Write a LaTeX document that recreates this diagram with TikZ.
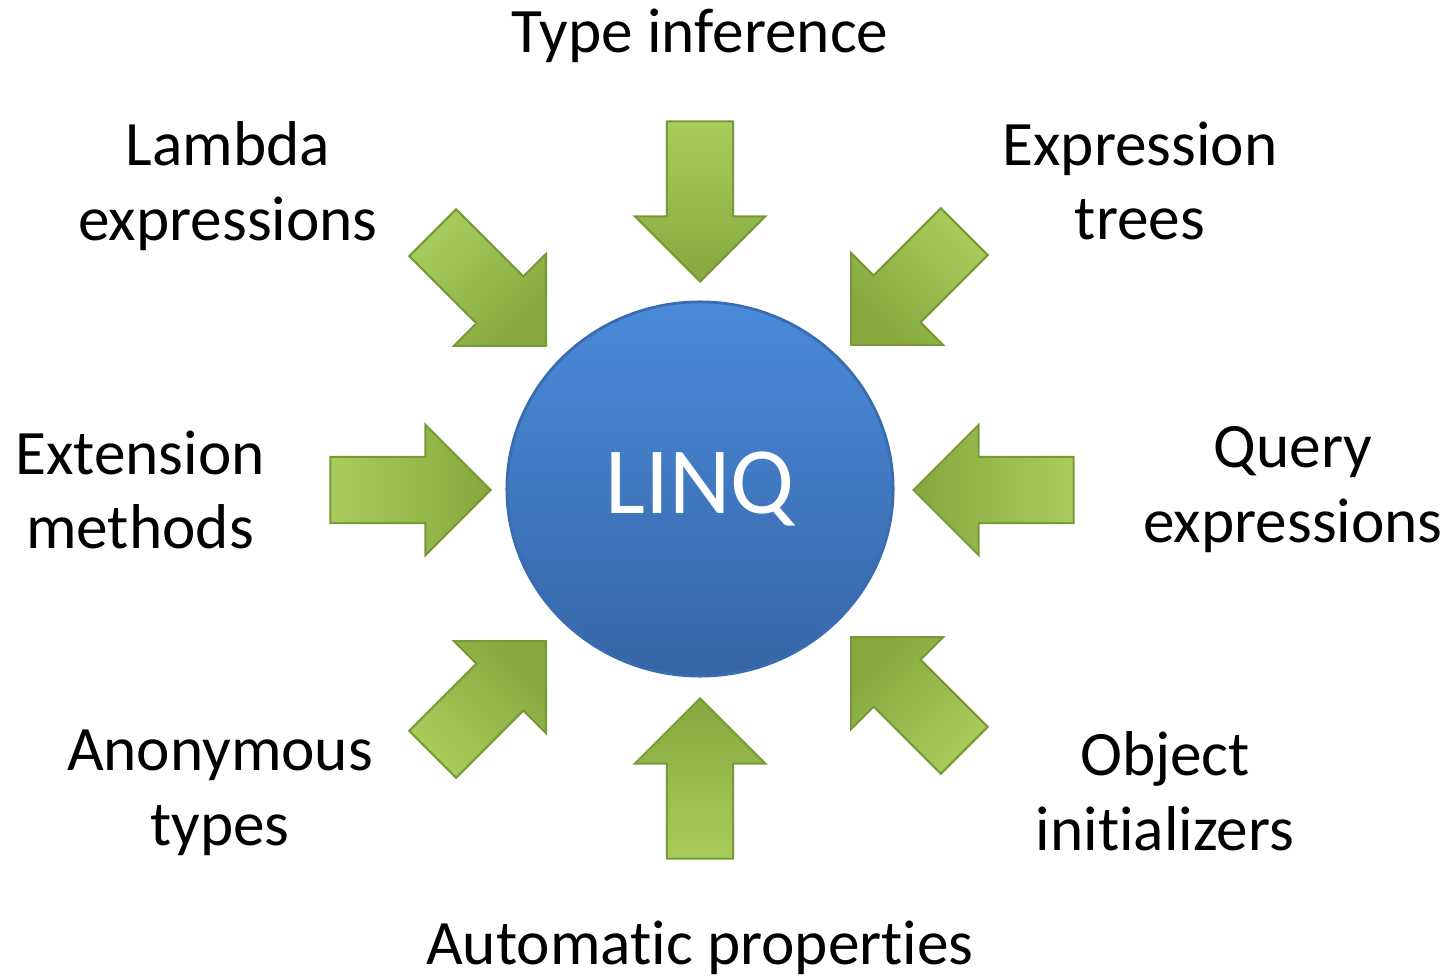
\documentclass[tikz,border=0pt]{standalone}
\usepackage{fontspec}
\setmainfont{Carlito}[Ligatures=NoCommon]
\usetikzlibrary{shapes.arrows,shapes.geometric}

\definecolor{linqtop}{HTML}{4A8BDA}
\definecolor{linqbot}{HTML}{3765A6}
\definecolor{linqrim}{HTML}{3A6CB2}
\definecolor{pushlight}{HTML}{A8CD5C}
\definecolor{pushdark}{HTML}{86A83F}
\definecolor{pushrim}{HTML}{789A36}

\tikzset{
  feature/.style={align=center, font=\fontsize{18}{21.3}\selectfont, text=black, inner sep=0pt},
  push/.style={single arrow, single arrow head extend=0.32cm, single arrow tip angle=90,
    minimum height=1.6cm, inner xsep=0pt, inner ysep=0.32cm, anchor=tip, rotate=#1,
    left color=pushlight, right color=pushdark, shading angle=90+#1,
    draw=pushrim, line width=0.6pt},
}

\begin{document}
\begin{tikzpicture}[x=0.01cm,y=-0.01cm]
  \useasboundingbox (0,0) rectangle (1454,976);

  % centre
  \node [ellipse, minimum width=3.86cm, minimum height=3.74cm, top color=linqtop, bottom color=linqbot,
    draw=linqrim, line width=0.8pt, text=white, font=\fontsize{27}{30}\selectfont] (linq) at (700,489) {LINQ};

  % arrows into the centre
  \node [push=-90]  (pTop) at (700,283) {};
  \node [push=90]   (pBot) at (700,697) {};
  \node [push=0]    (pLft) at (492,490) {};
  \node [push=180]  (pRgt) at (912,490) {};
  \node [push=-45]  (pTL)  at (547,347) {};
  \node [push=-135] (pTR)  at (850,346) {};
  \node [push=45]   (pBL)  at (547,640) {};
  \node [push=135]  (pBR)  at (850,636) {};

  % labels
  \node [feature] (typeinf) at (700,36)  {Type inference};
  \node [feature] (lambda)  at (228,186) {Lambda\\expressions};
  \node [feature] (exptree) at (1140,181) {Expression\\trees};
  \node [feature] (extmeth) at (140,490) {Extension\\methods};
  \node [feature] (query)   at (1293,490) {Query\\expressions};
  \node [feature] (anon)    at (220,793) {Anonymous\\types};
  \node [feature] (objinit) at (1165,791) {Object\\initializers};
  \node [feature] (autoprop) at (700,948) {Automatic properties};
\end{tikzpicture}
\end{document}
